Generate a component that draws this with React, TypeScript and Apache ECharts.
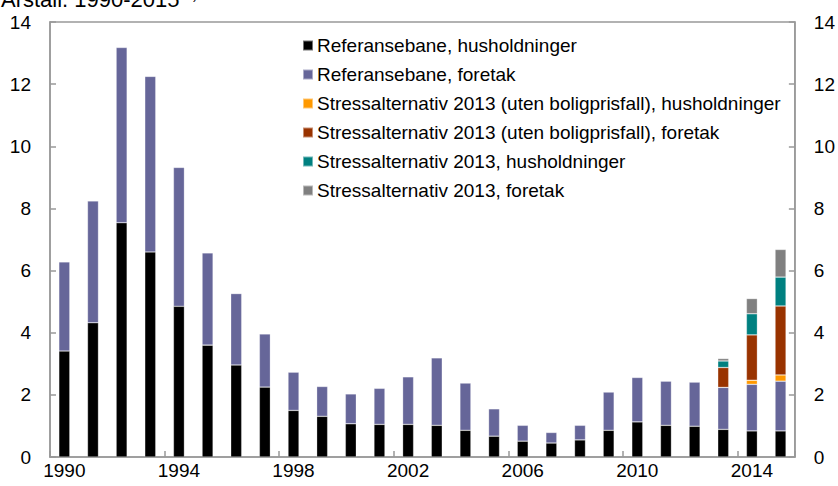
import React, { useEffect, useRef } from "react";
import * as echarts from "echarts";

const years = Array.from({ length: 26 }, (_, i) => String(1990 + i));
const refHouseholds = [3.41, 4.32, 7.54, 6.6, 4.85, 3.6, 2.96, 2.25, 1.5, 1.31, 1.07, 1.05, 1.05, 1.02, 0.86, 0.67, 0.51, 0.45, 0.55, 0.86, 1.13, 1.02, 0.99, 0.89, 0.84, 0.84];
const refFirms = [2.87, 3.92, 5.64, 5.65, 4.47, 2.97, 2.3, 1.71, 1.23, 0.96, 0.96, 1.16, 1.53, 2.17, 1.52, 0.88, 0.51, 0.34, 0.47, 1.23, 1.43, 1.42, 1.42, 1.35, 1.5, 1.6];
const stressNoHouseHouseholds = [...Array(23).fill(null), 0, 0.13, 0.2];
const stressNoHouseFirms = [...Array(23).fill(null), 0.64, 1.46, 2.22];
const stressHouseholds = [...Array(23).fill(null), 0.21, 0.68, 0.93];
const stressFirms = [...Array(23).fill(null), 0.08, 0.49, 0.89];

const seriesNames = [
  "Referansebane, husholdninger",
  "Referansebane, foretak",
  "Stressalternativ 2013 (uten boligprisfall), husholdninger",
  "Stressalternativ 2013 (uten boligprisfall), foretak",
  "Stressalternativ 2013, husholdninger",
  "Stressalternativ 2013, foretak",
];
const seriesColors = ["#000000", "#666699", "#FF9900", "#993300", "#008080", "#808080"];
const seriesData = [refHouseholds, refFirms, stressNoHouseHouseholds, stressNoHouseFirms, stressHouseholds, stressFirms];

const FONT = "Liberation Sans, Arial, sans-serif";

export default function App() {
  const ref = useRef<HTMLDivElement>(null);
  useEffect(() => {
    if (!ref.current) return;
    const chart = echarts.init(ref.current, null, { renderer: "svg" });
    const axisGrey = "#999999";
    const yAxisCommon = {
      type: "value",
      min: 0,
      max: 14,
      interval: 2,
      axisLine: { show: true, lineStyle: { color: axisGrey, width: 1.5 } },
      axisTick: { show: true, inside: true, length: 6, lineStyle: { color: axisGrey, width: 1.5 } },
      splitLine: { show: false },
      axisLabel: { color: "#000", fontSize: 19, fontFamily: FONT, margin: 19 },
    };
    chart.setOption({
      animation: false,
      textStyle: { fontFamily: FONT },
      grid: { left: 50, right: 42, top: 22, bottom: 29, show: true, borderColor: axisGrey, borderWidth: 1.5 },
      legend: {
        orient: "vertical",
        left: 297,
        top: 30,
        itemWidth: 10,
        itemHeight: 10,
        itemGap: 8,
        icon: "rect",
        data: seriesNames,
        textStyle: { color: "#000", fontSize: 19, fontFamily: FONT, lineHeight: 21, padding: [0, 0, 0, -1] },
      },
      graphic: [
        {
          type: "text",
          left: 1,
          top: -12,
          style: {
            text: "Årstall. 1990-2015 {sup|1)}",
            fontSize: 22,
            fontFamily: FONT,
            fill: "#000",
            rich: { sup: { fontSize: 13, fontFamily: FONT, verticalAlign: "top", fill: "#000" } },
          },
        },
      ],
      xAxis: {
        type: "category",
        data: years,
        boundaryGap: true,
        axisLine: { show: true, lineStyle: { color: axisGrey, width: 1.5 } },
        axisTick: { show: true, inside: true, interval: 3, length: 6, alignWithLabel: false, lineStyle: { color: axisGrey, width: 1.5 } },
        axisLabel: { interval: 3, color: "#000", fontSize: 19, fontFamily: FONT, margin: 4 },
      },
      yAxis: [
        { ...yAxisCommon, position: "left" },
        { ...yAxisCommon, position: "right" },
      ],
      series: seriesNames.map((name, i) => ({
        name,
        type: "bar",
        stack: "total",
        barWidth: 11,
        yAxisIndex: 0,
        data: seriesData[i],
        itemStyle: { color: seriesColors[i], borderColor: "rgba(255,255,255,0.45)", borderWidth: 0.6 },
      })),
    });
    return () => chart.dispose();
  }, []);
  return <div ref={ref} style={{ position: "absolute", left: 0, top: 0, width: 838, height: 486 }} />;
}
